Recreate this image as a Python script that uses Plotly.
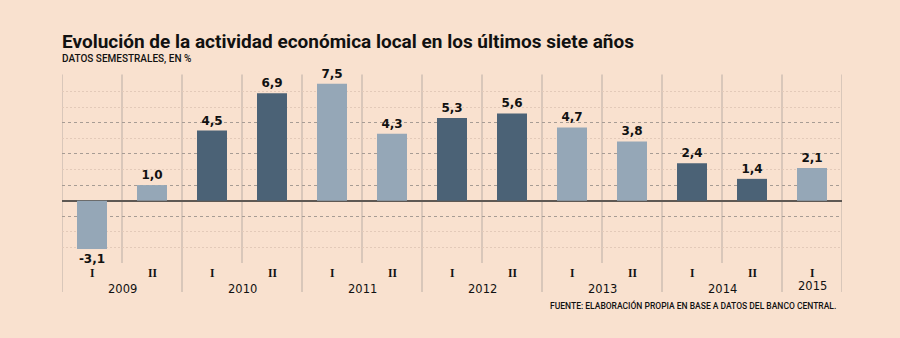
import plotly.graph_objects as go

# ---- data ----
years = ["2009", "2010", "2011", "2012", "2013", "2014", "2015"]
semesters_per_year = [2, 2, 2, 2, 2, 2, 1]
semester_labels = ["I", "II"]
values = [-3.1, 1.0, 4.5, 6.9, 7.5, 4.3, 5.3, 5.6, 4.7, 3.8, 2.4, 1.4, 2.1]

title = "Evolución de la actividad económica local en los últimos siete años"
subtitle = "DATOS SEMESTRALES, EN %"
source = "FUENTE: ELABORACIÓN PROPIA EN BASE A DATOS DEL BANCO CENTRAL."

# ---- style ----
BG = "#f9e1cf"
DARK = "#4b6276"
LIGHT = "#95a7b7"
VLINE = "#b9ada5"
TEXT = "#111111"

# build per-bar info
xs, sem_text, year_of_bar = [], [], []
i = 0
for yi, (yr, n) in enumerate(zip(years, semesters_per_year)):
    for s in range(n):
        xs.append(i)
        sem_text.append(semester_labels[s])
        year_of_bar.append(yi)
        i += 1
colors = [LIGHT if year_of_bar[k] % 2 == 0 else DARK for k in range(len(values))]
labels = [f"{v:.1f}".replace(".", ",") for v in values]

fig = go.Figure()
fig.add_trace(go.Bar(
    x=xs, y=values, width=0.5,
    marker=dict(color=colors, line=dict(width=0)),
    text=labels, textposition="outside", cliponaxis=False,
    textfont=dict(family="DejaVu Sans", size=12, color=TEXT, weight="bold"),
    hoverinfo="skip",
))

n = len(values)
# vertical separators
shapes = []
start = 0
for yi, cnt in enumerate(semesters_per_year):
    shapes.append(dict(type="line", xref="x", yref="paper", x0=start - 0.5, x1=start - 0.5,
                       y0=-0.155, y1=1.008, line=dict(color=VLINE, width=1), layer="between"))
    for s in range(1, cnt):
        shapes.append(dict(type="line", xref="x", yref="paper", x0=start + s - 0.5, x1=start + s - 0.5,
                           y0=0, y1=1.008, line=dict(color=VLINE, width=1), layer="between"))
    start += cnt
shapes.append(dict(type="line", xref="x", yref="paper", x0=start - 0.5, x1=start - 0.5,
                   y0=-0.155, y1=1.008, line=dict(color=VLINE, width=1), layer="between"))

annotations = []
for k in range(n):
    annotations.append(dict(x=xs[k], y=0, xref="x", yref="paper", yanchor="middle",
                            yshift=-10, text=sem_text[k], showarrow=False, borderpad=0,
                            font=dict(family="Liberation Serif", size=11.5, color=TEXT, weight="bold")))
start = 0
for yi, (yr, cnt) in enumerate(zip(years, semesters_per_year)):
    cx = start + (cnt - 1) / 2
    annotations.append(dict(x=cx, y=0, xref="x", yref="paper", yanchor="middle",
                            yshift=-26 if cnt > 1 else -23, text=yr, showarrow=False,
                            font=dict(family="DejaVu Sans", size=11.5, color=TEXT)))
    start += cnt

annotations.append(dict(x=0, y=1, xref="paper", yref="paper", xanchor="left", yanchor="middle",
                        yshift=35, xshift=-2, text=f"<b>{title}</b>", showarrow=False,
                        font=dict(family="Roboto", size=19, color=TEXT)))
annotations.append(dict(x=0, y=1, xref="paper", yref="paper", xanchor="left", yanchor="middle",
                        yshift=17, xshift=-2, text=subtitle, showarrow=False,
                        font=dict(family="Roboto", size=10, color=TEXT, weight=500)))
annotations.append(dict(x=1, y=0, xref="paper", yref="paper", xanchor="right", yanchor="middle",
                        yshift=-42, xshift=-4, text=source, showarrow=False,
                        font=dict(family="Roboto", size=8.5, color=TEXT, weight=500)))

fig.update_layout(
    width=900, height=338,
    margin=dict(l=62, r=58, t=76, b=75),
    paper_bgcolor=BG, plot_bgcolor=BG,
    showlegend=False,
    xaxis=dict(range=[-0.5, n - 0.5], showgrid=False, zeroline=False,
               showticklabels=False, ticks="", fixedrange=True),
    yaxis=dict(range=[-4, 8], tickvals=[-1, 1, 3, 5], showticklabels=False, ticks="",
               showgrid=True, gridcolor="#a79c94", griddash="3px,3px", gridwidth=1,
               zeroline=True, zerolinecolor="#5e5853", zerolinewidth=2,
               minor=dict(tickvals=[-3, -2, 2, 4, 6, 7, 8], showgrid=True,
                          gridcolor="#e3cab9", griddash="2px,2px", gridwidth=1, ticks=""),
               fixedrange=True),
    shapes=shapes, annotations=annotations,
)

fig.write_html("out.html")
